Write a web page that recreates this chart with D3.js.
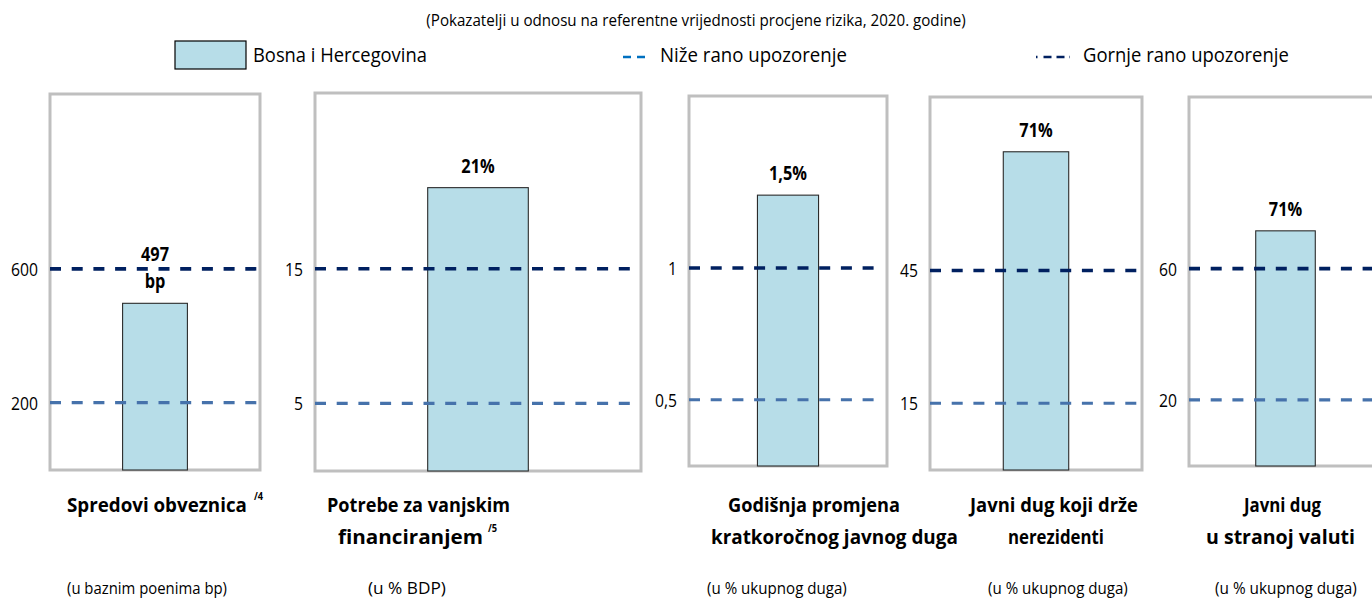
<!DOCTYPE html>
<html>
<head>
<meta charset="utf-8">
<script src="https://cdn.jsdelivr.net/npm/d3@7"></script>
<style>
  html, body { margin: 0; padding: 0; background: #ffffff; }
  svg { display: block; }
  text { font-family: "Open Sans", "Noto Sans", "DejaVu Sans", sans-serif; fill: #000; }
</style>
</head>
<body>
<svg id="chart" width="1372" height="598"></svg>
<script>
// ---------------- DATA ----------------
const subtitle = "(Pokazatelji u odnosu na referentne vrijednosti procjene rizika, 2020. godine)";
const legendLabels = ["Bosna i Hercegovina", "Niže rano upozorenje", "Gornje rano upozorenje"];
const categories = [
  "Spredovi obveznica",
  "Potrebe za vanjskim financiranjem",
  "Godišnja promjena kratkoročnog javnog duga",
  "Javni dug koji drže nerezidenti",
  "Javni dug u stranoj valuti"
];
const values = [497, 21, 1.5, 71, 71];
const valueLabels = [["497", "bp"], ["21%"], ["1,5%"], ["71%"], ["71%"]];
const lowerWarning = [200, 5, 0.5, 15, 20];
const upperWarning = [600, 15, 1, 45, 60];
const axisMax = [1125, 28, 2.18, 83, 110];
const titleLines = [
  ["Spredovi obveznica"],
  ["Potrebe za vanjskim", "financiranjem"],
  ["Godišnja promjena", "kratkoročnog javnog duga"],
  ["Javni dug koji drže", "nerezidenti"],
  ["Javni dug", "u stranoj valuti"]
];
const footnotes = ["/4", "/5", "", "", ""];
const units = ["(u baznim poenima bp)", "(u % BDP)", "(u % ukupnog duga)", "(u % ukupnog duga)", "(u % ukupnog duga)"];

// ---------------- LAYOUT ----------------
const boxes = [
  {l: 50,   r: 260,  t: 94, b: 470},
  {l: 315,  r: 641,  t: 93, b: 471},
  {l: 689,  r: 887,  t: 96, b: 466},
  {l: 930,  r: 1142, t: 97, b: 470},
  {l: 1189, r: 1382, t: 97, b: 466}
];
const lowFrac = 0.179, highFrac = 0.535;
const titleLayout = [
  {lines: [[67, 180]], fn: [254, 500]},
  {lines: [[327, 183], [338, 145]], fn: [488, 532]},
  {lines: [[728, 172], [711, 247]], fn: null},
  {lines: [[970, 168], [1008, 96]], fn: null},
  {lines: [[1244, 77], [1206, 149]], fn: null}
];
const unitLayout = [[67, 160], [368, 78], [707, 140], [988, 140], [1215, 142]];

const COL = {
  bar: "#b7dde8",
  barStroke: "#2b2b2b",
  upper: "#002060",
  lower: "#4672ab",
  legendLower: "#0070c0",
  box: "#bfbfbf"
};

const svg = d3.select("#chart");
svg.append("rect").attr("width", 1372).attr("height", 598).attr("fill", "#fff");

// place a text horizontally condensed by a transform (either to a target width or by a factor)
function placeText(parent, o) {
  const t = parent.append("text")
    .attr("x", 0).attr("y", 0)
    .attr("text-anchor", o.anchor || "start")
    .attr("font-size", o.size)
    .attr("font-weight", o.weight || "normal")
    .text(o.text);
  const w = t.node().getComputedTextLength();
  const s = o.width ? o.width / w : (o.factor || 0.85);
  t.attr("transform", `translate(${o.x},${o.y}) scale(${s},1)`);
  return t;
}

// Subtitle
placeText(svg, {x: 696, y: 26, anchor: "middle", size: 15.5, width: 540, text: subtitle});

// Legend
const lg = svg.append("g");
lg.append("rect").attr("x", 175).attr("y", 41).attr("width", 71).attr("height", 28)
  .attr("fill", COL.bar).attr("stroke", "#000").attr("stroke-width", 1.2);
placeText(lg, {x: 253, y: 62, size: 19.5, width: 174, text: legendLabels[0]});
lg.append("line").attr("x1", 623).attr("x2", 648).attr("y1", 57).attr("y2", 57)
  .attr("stroke", COL.legendLower).attr("stroke-width", 2.5).attr("stroke-dasharray", "8,6");
placeText(lg, {x: 660, y: 62, size: 19.5, width: 187, text: legendLabels[1]});
lg.append("line").attr("x1", 1036).attr("x2", 1070).attr("y1", 57).attr("y2", 57)
  .attr("stroke", COL.upper).attr("stroke-width", 2.5).attr("stroke-dasharray", "1.5,6,8,5,8,5");
placeText(lg, {x: 1083, y: 62, size: 19.5, width: 206, text: legendLabels[2]});

const fmt = d3.formatLocale({decimal: ",", thousands: ".", grouping: [3], currency: ["", ""]}).format("~g");

categories.forEach((cat, i) => {
  const bx = boxes[i];
  const h = bx.b - bx.t;
  const g = svg.append("g");

  const y = d3.scaleLinear()
    .domain([0, lowerWarning[i], upperWarning[i], axisMax[i]])
    .range([bx.b, bx.b - lowFrac * h, bx.b - highFrac * h, bx.t]);
  const x = d3.scaleBand().domain([cat]).range([bx.l, bx.r]).paddingInner(0).paddingOuter(1.12);

  // panel frame
  g.append("rect").attr("x", bx.l).attr("y", bx.t)
    .attr("width", bx.r - bx.l).attr("height", bx.b - bx.t)
    .attr("fill", "#fff").attr("stroke", COL.box).attr("stroke-width", 3);

  // bar
  g.append("rect")
    .attr("x", x(cat)).attr("width", x.bandwidth())
    .attr("y", y(values[i])).attr("height", y(0) - y(values[i]))
    .attr("fill", COL.bar).attr("stroke", COL.barStroke).attr("stroke-width", 1.1);

  // warning lines
  const lines = [
    {v: lowerWarning[i], c: COL.lower, w: 3.2},
    {v: upperWarning[i], c: COL.upper, w: 3.6}
  ];
  lines.forEach(ln => {
    g.append("line")
      .attr("x1", bx.l).attr("x2", Math.min(bx.r - 3, 1372))
      .attr("y1", y(ln.v)).attr("y2", y(ln.v))
      .attr("stroke", ln.c).attr("stroke-width", ln.w)
      .attr("stroke-dasharray", "11,10.7");
  });

  // axis with the two thresholds
  const ax = g.append("g").attr("transform", `translate(${bx.l},0)`)
    .call(d3.axisLeft(y).tickValues([lowerWarning[i], upperWarning[i]]).tickSize(0).tickPadding(12).tickFormat(fmt));
  ax.select(".domain").remove();
  ax.attr("font-size", null).attr("font-family", null);
  ax.selectAll("text").attr("font-size", 18.5).attr("fill", "#000").attr("dy", "0.35em")
    .each(function() {
      const w = this.getComputedTextLength();
      d3.select(this).attr("textLength", w * 0.85).attr("lengthAdjust", "spacingAndGlyphs");
    });

  // value labels
  const top = y(values[i]);
  const lbl = valueLabels[i];
  lbl.forEach((t, k) => {
    const base = top - 15 - (lbl.length - 1 - k) * 27;
    placeText(g, {x: x(cat) + x.bandwidth() / 2, y: base, anchor: "middle", size: 19, weight: "bold", factor: 0.86, text: t});
  });

  // titles
  const tl = titleLayout[i];
  titleLines[i].forEach((t, k) => {
    const [lx, lw] = tl.lines[k];
    placeText(g, {x: lx, y: 512 + k * 32, size: 20, weight: "bold", width: lw, text: t});
  });
  if (footnotes[i]) {
    placeText(g, {x: tl.fn[0], y: tl.fn[1], size: 11, weight: "bold", factor: 0.84, text: footnotes[i]});
  }

  // unit
  const [ux, uw] = unitLayout[i];
  placeText(g, {x: ux, y: 594, size: 15.5, width: uw, text: units[i]});
});
</script>
</body>
</html>
